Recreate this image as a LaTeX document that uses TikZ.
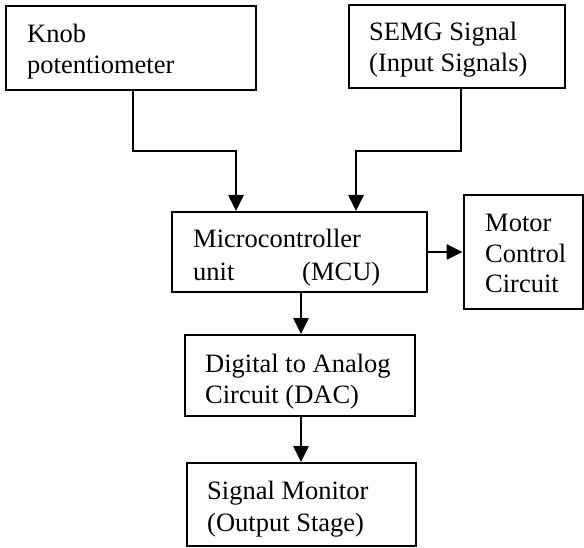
\documentclass[tikz,border=0pt]{standalone}
\usepackage{fontspec}
\setmainfont{Liberation Serif}
\usetikzlibrary{arrows.meta}
\begin{document}
\begin{tikzpicture}[x=1pt,y=-1pt,
  blk/.style={draw,line width=2pt,rectangle,inner sep=0pt},
  lbl/.style={anchor=base west,inner sep=0pt,font=\fontsize{26.5}{31}\selectfont},
  arr/.style={line width=2.6pt,-{Triangle[length=16pt,width=15pt]}},
  ln/.style={line width=2.6pt}]
\useasboundingbox (0,0) rectangle (584,548);
% boxes
\node[blk,minimum width=250pt,minimum height=84pt] (knob) at (131,48) {};
\node[blk,minimum width=216pt,minimum height=83pt] (semg) at (457,46.5) {};
\node[blk,minimum width=255pt,minimum height=80pt] (mcu) at (299.5,252) {};
\node[blk,minimum width=119pt,minimum height=114pt] (motor) at (523,252) {};
\node[blk,minimum width=230pt,minimum height=81pt] (dac) at (300,375.5) {};
\node[blk,minimum width=229pt,minimum height=83pt] (sig) at (301.5,504.5) {};
% texts
\node[lbl] (t1) at (27,43) {Knob};
\node[lbl] (t2) at (27,74) {potentiometer};
\node[lbl] (t3) at (369,41) {SEMG Signal};
\node[lbl] (t4) at (369,72) {(Input Signals)};
\node[lbl] (t5) at (193,248) {Microcontroller};
\node[lbl] (t6) at (193,280) {unit};
\node[lbl] (t7) at (302,280) {(MCU)};
\node[lbl] (t8) at (485,232) {Motor};
\node[lbl] (t9) at (485,263) {Control};
\node[lbl] (t10) at (485,293) {Circuit};
\node[lbl] (t11) at (205,372) {Digital to Analog};
\node[lbl] (t12) at (205,403) {Circuit (DAC)};
\node[lbl] (t13) at (207,499) {Signal Monitor};
\node[lbl] (t14) at (207,531) {(Output Stage)};
% connectors
\coordinate (kc) at (236,151);
\coordinate (sc) at (356,151);
\coordinate (ks) at (133,0);
\coordinate (ss) at (461,0);
\coordinate (vc) at (301,0);
\draw[arr] (ks |- knob.south) |- (kc) -- (kc |- mcu.north);
\draw[arr] (ss |- semg.south) |- (sc) -- (sc |- mcu.north);
\draw[arr] (mcu.east) -- (mcu.east -| motor.west);
\draw[arr] (vc |- mcu.south) -- (vc |- dac.north);
\draw[arr] (vc |- dac.south) -- (vc |- sig.north);
\end{tikzpicture}
\end{document}
